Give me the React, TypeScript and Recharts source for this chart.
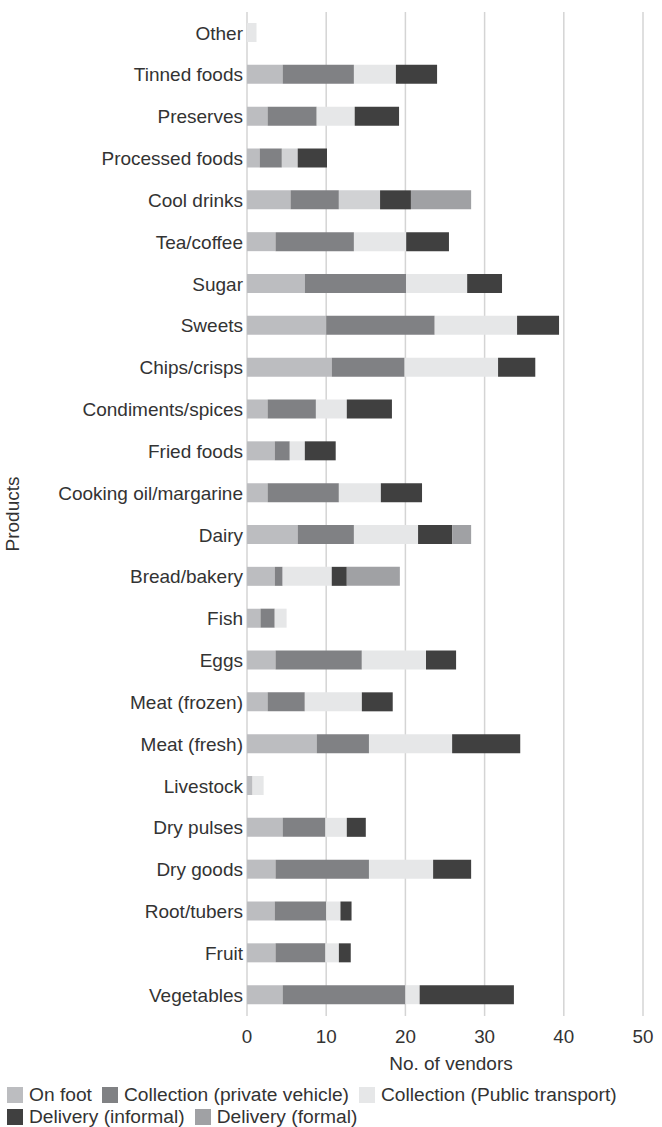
import { Bar, BarChart, CartesianGrid, Cell, XAxis, YAxis } from "recharts";

const categories = [
  "Other",
  "Tinned foods",
  "Preserves",
  "Processed foods",
  "Cool drinks",
  "Tea/coffee",
  "Sugar",
  "Sweets",
  "Chips/crisps",
  "Condiments/spices",
  "Fried foods",
  "Cooking oil/margarine",
  "Dairy",
  "Bread/bakery",
  "Fish",
  "Eggs",
  "Meat (frozen)",
  "Meat (fresh)",
  "Livestock",
  "Dry pulses",
  "Dry goods",
  "Root/tubers",
  "Fruit",
  "Vegetables",
];

const onFoot = [0, 4.5, 2.6, 1.6, 5.5, 3.6, 7.3, 10.0, 10.7, 2.6, 3.5, 2.6, 6.4, 3.5, 1.7, 3.6, 2.6, 8.8, 0.7, 4.5, 3.6, 3.5, 3.6, 4.5];
const privateVehicle = [0, 9.0, 6.2, 2.8, 6.1, 9.9, 12.8, 13.7, 9.2, 6.1, 1.9, 9.0, 7.1, 1.0, 1.8, 10.9, 4.7, 6.6, 0, 5.4, 11.8, 6.5, 6.3, 15.5];
const publicTransport = [1.2, 5.3, 4.8, 2.0, 5.2, 6.6, 7.7, 10.4, 11.8, 3.9, 1.9, 5.3, 8.1, 6.2, 1.5, 8.1, 7.2, 10.5, 1.4, 2.7, 8.1, 1.8, 1.7, 1.8];
const deliveryInformal = [0, 5.2, 5.6, 3.7, 3.9, 5.4, 4.4, 5.3, 4.7, 5.7, 3.9, 5.2, 4.3, 1.9, 0, 3.8, 3.9, 8.6, 0, 2.4, 4.8, 1.4, 1.5, 11.9];
const deliveryFormal = [0, 0, 0, 0, 7.6, 0, 0, 0, 0, 0, 0, 0, 2.4, 6.7, 0, 0, 0, 0, 0, 0, 0, 0, 0, 0];

const xTicks = [0, 10, 20, 30, 40, 50];

// in the original a couple of public-transport segments are a shade darker
const darkerPublic = ["Processed foods", "Cool drinks"];

const SERIES = [
  { key: "onFoot", name: "On foot", color: "#bcbdc0" },
  { key: "privateVehicle", name: "Collection (private vehicle)", color: "#808184" },
  { key: "publicTransport", name: "Collection (Public transport)", color: "#e6e7e8" },
  { key: "deliveryInformal", name: "Delivery (informal)", color: "#404040" },
  { key: "deliveryFormal", name: "Delivery (formal)", color: "#a0a1a4" },
];

const data = categories.map((product, i) => ({
  product,
  onFoot: onFoot[i],
  privateVehicle: privateVehicle[i],
  publicTransport: publicTransport[i],
  deliveryInformal: deliveryInformal[i],
  deliveryFormal: deliveryFormal[i],
}));

const FONT = '"Liberation Sans", Arial, sans-serif';
const TEXT = "#333";

function LegendBox() {
  return (
    <div
      style={{
        position: "absolute",
        left: 7,
        top: 1084,
        width: 652,
        display: "flex",
        flexWrap: "wrap",
        fontFamily: FONT,
        fontSize: 19.2,
        color: TEXT,
        lineHeight: "22px",
      }}
    >
      {SERIES.map((s) => (
        <div key={s.key} style={{ display: "flex", alignItems: "center", marginRight: 10 }}>
          <span
            style={{
              display: "inline-block",
              width: 16,
              height: 16,
              background: s.color,
              marginRight: 6,
            }}
          />
          {s.name}
        </div>
      ))}
    </div>
  );
}

export default function App() {
  return (
    <div style={{ position: "absolute", left: 0, top: 0, width: 662, height: 1127, background: "#fff" }}>
      <BarChart
        width={662}
        height={1085}
        data={data}
        layout="vertical"
        barSize={19}
        margin={{ top: 12, right: 19, left: 0, bottom: 9 }}
      >
        <CartesianGrid horizontal={false} stroke="#d4d4d4" strokeWidth={1.5} />
        <XAxis
          type="number"
          domain={[0, 50]}
          ticks={xTicks}
          axisLine={false}
          tickLine={false}
          tickSize={0}
          tickMargin={14}
          height={60}
          tick={{ fontSize: 18.8, fill: TEXT, fontFamily: FONT }}
          label={{
            value: "No. of vendors",
            position: "insideBottom",
            offset: 6,
            dx: 6,
            fill: TEXT,
            fontSize: 19,
            fontFamily: FONT,
          }}
        />
        <YAxis
          type="category"
          dataKey="product"
          width={247}
          axisLine={false}
          tickLine={false}
          tickSize={4}
          tickMargin={0}
          interval={0}
          tick={{ fontSize: 19, fill: TEXT, fontFamily: FONT }}
          label={{
            value: "Products",
            angle: -90,
            position: "insideLeft",
            offset: 12,
            textAnchor: "middle",
            fill: TEXT,
            fontSize: 19,
            fontFamily: FONT,
          }}
        />
        {SERIES.map((s) => (
          <Bar
            key={s.key}
            dataKey={s.key}
            name={s.name}
            stackId="a"
            fill={s.color}
            isAnimationActive={false}
          >
            {s.key === "publicTransport"
              ? data.map((d) => (
                  <Cell
                    key={d.product}
                    fill={darkerPublic.includes(d.product) ? "#d1d2d4" : s.color}
                  />
                ))
              : null}
          </Bar>
        ))}
      </BarChart>
      <LegendBox />
    </div>
  );
}
